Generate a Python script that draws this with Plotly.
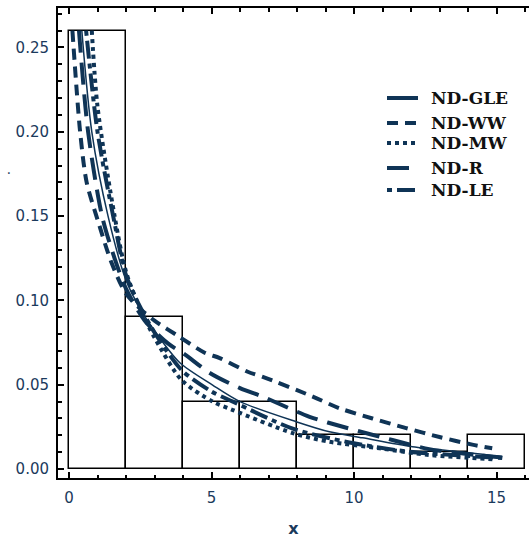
import plotly.graph_objects as go

# Histogram of the sample (bin width 2)
bin_left = [0, 2, 4, 6, 8, 10, 12, 14]
bin_width = 2
bin_density = [0.26, 0.09, 0.04, 0.04, 0.02, 0.02, 0.01, 0.02]

# Fitted densities
gle_x = [0.45, 0.8, 1.37, 2.0, 2.5, 3.0, 3.89, 5.04, 6.0, 7.97, 9.14, 10.3, 12.05, 14.05, 15.2]
gle_y = [0.26, 0.20, 0.15, 0.112, 0.095, 0.082, 0.063, 0.0498, 0.040, 0.0281, 0.0221, 0.0185, 0.0132, 0.0097, 0.0073]

ww_x = [0.12, 0.39, 0.62, 1.0, 1.5, 2.0, 2.5, 3.0, 3.82, 4.76, 5.29, 6.27, 6.8, 8.55, 9.5, 10.65, 11.83, 13.0, 14.15, 14.85]
ww_y = [0.26, 0.20, 0.17, 0.148, 0.122, 0.104, 0.095, 0.088, 0.079, 0.069, 0.0658, 0.0577, 0.0547, 0.043, 0.036, 0.030, 0.0243, 0.019, 0.0145, 0.0123]

mw_x = [0.8, 1.0, 1.6, 2.0, 2.5, 3.0, 3.95, 5.04, 5.75, 7.85, 9.14, 10.9, 12.64, 15.0]
mw_y = [0.26, 0.215, 0.15, 0.117, 0.095, 0.078, 0.0528, 0.040, 0.035, 0.0213, 0.0162, 0.0123, 0.0083, 0.0057]

r_x = [0.35, 0.67, 1.16, 1.6, 2.0, 2.66, 3.47, 4.06, 4.94, 6.0, 6.8, 8.44, 9.73, 11.35, 12.64, 13.5, 14.5, 15.2]
r_y = [0.26, 0.20, 0.15, 0.125, 0.107, 0.088, 0.0745, 0.068, 0.057, 0.048, 0.0429, 0.031, 0.0245, 0.0172, 0.0118, 0.0098, 0.0080, 0.0068]

le_x = [0.6, 1.0, 1.55, 2.0, 2.5, 3.0, 3.95, 5.0, 5.75, 7.85, 9.84, 11.83, 13.5, 15.2]
le_y = [0.26, 0.20, 0.15, 0.115, 0.096, 0.081, 0.0587, 0.046, 0.040, 0.024, 0.0158, 0.0105, 0.0083, 0.0066]

y_ticks = [0.00, 0.05, 0.10, 0.15, 0.20, 0.25]
x_ticks = [0, 5, 10, 15]

NAVY = "#0f3456"
TXT = "#1b3a5c"

# plot-area geometry in pixels (used to place the key in paper units)
W, H = 529, 538
L, R, T, B = 58, 0, 8, 60
PW, PH = W - L - R, H - T - B


def px_x(p):
    return (p - L) / PW


def px_y(p):
    return 1 - (p - T) / PH


fig = go.Figure()

fig.add_trace(go.Bar(
    x=[b + bin_width / 2 for b in bin_left],
    y=bin_density,
    width=bin_width,
    marker=dict(color="white", line=dict(color="black", width=1.5)),
    showlegend=False,
    hoverinfo="skip",
))

curves = [
    ("ND-GLE", gle_x, gle_y, "solid", 1.5),
    ("ND-WW", ww_x, ww_y, "11px,7px", 4),
    ("ND-MW", mw_x, mw_y, "4px,4px", 4),
    ("ND-R", r_x, r_y, "22px,10px", 4),
    ("ND-LE", le_x, le_y, "5px,5px,18px,5px", 4),
]

for name, xs, ys, dash, w in curves:
    fig.add_trace(go.Scatter(
        x=xs, y=ys, mode="lines", name=name,
        line=dict(color=NAVY, width=w, dash=dash, shape="spline", smoothing=0.8),
        showlegend=False,
    ))

# key: heavy line samples with bold serif labels
key_rows = [98, 123, 143, 168, 190]
shapes, annotations = [], []
for (name, xs, ys, dash, w), row in zip(curves, key_rows):
    shapes.append(dict(
        type="line", xref="paper", yref="paper",
        x0=px_x(387), x1=px_x(418), y0=px_y(row), y1=px_y(row),
        line=dict(color=NAVY, width=4, dash=dash),
    ))
    annotations.append(dict(
        text=name, xref="paper", yref="paper",
        x=px_x(429), y=px_y(row), xanchor="left", yanchor="middle",
        showarrow=False,
        font=dict(family="DejaVu Serif", size=17, color="#111111", weight="bold"),
    ))

annotations.append(dict(
    text="·", xref="paper", yref="paper",
    x=px_x(5), y=px_y(172),
    showarrow=False, font=dict(size=14, color=TXT),
))

fig.update_layout(
    width=W, height=H,
    margin=dict(l=L, r=R, t=T, b=B),
    plot_bgcolor="white", paper_bgcolor="white",
    bargap=0,
    showlegend=False,
    shapes=shapes,
    annotations=annotations,
)

fig.update_xaxes(
    range=[-0.386, 16.14],
    tickvals=x_ticks, ticktext=[str(v) for v in x_ticks],
    ticks="inside", ticklen=6, tickwidth=1.5, tickcolor="black",
    minor=dict(dtick=1, ticks="inside", ticklen=3.5, tickwidth=1.5, tickcolor="black"),
    showline=True, linecolor="black", linewidth=2, mirror="ticks",
    showgrid=False, zeroline=False,
    tickfont=dict(family="DejaVu Sans", size=15, color=TXT),
    ticklabelstandoff=5,
    title=dict(text="x", font=dict(family="DejaVu Sans", size=16, color=TXT, weight="bold"), standoff=19),
)

fig.update_yaxes(
    range=[-0.0053, 0.2734],
    tickvals=y_ticks, ticktext=[f"{v:.2f}" for v in y_ticks],
    ticks="inside", ticklen=6, tickwidth=1.5, tickcolor="black",
    minor=dict(dtick=0.01, ticks="inside", ticklen=3.5, tickwidth=1.5, tickcolor="black"),
    showline=True, linecolor="black", linewidth=2, mirror=False,
    showgrid=False, zeroline=False,
    tickfont=dict(family="DejaVu Sans", size=15, color=TXT),
    ticklabelstandoff=4,
)

fig.write_html("out.html")
